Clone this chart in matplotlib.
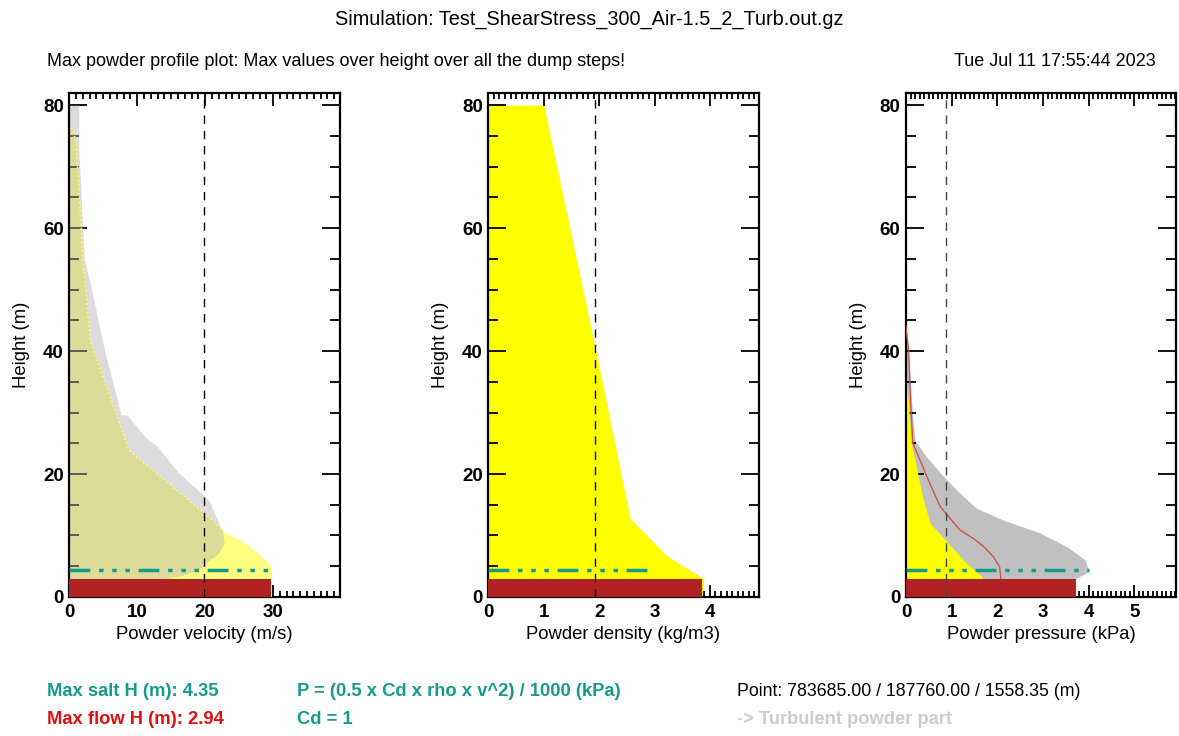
import numpy as np
import matplotlib
matplotlib.use("Agg")
import matplotlib.pyplot as plt
from matplotlib.ticker import MultipleLocator

plt.rcParams['font.family'] = ['Liberation Sans', 'DejaVu Sans']

# ---- data ----
salt_h = 4.35   # max saltation height (m)
flow_h = 2.94   # max flow height (m)

# velocity panel
vel_flow_h = [0, 2.94, 4.9, 5.8, 7.0, 8.7, 10.5, 12.2, 23.8, 41.6, 55.2, 73.8, 76.0, 76.5]
vel_flow_v = [29.7, 29.7, 29.6, 29.0, 27.8, 25.8, 22.8, 21.4, 8.8, 3.1, 2.0, 1.0, 0.5, 0.0]
vel_turb_h = [0, 2.94, 3.5, 4.3, 5.2, 6.0, 7.0, 8.7, 10.5, 12.2, 15.7, 17.4, 20.3, 24.4,
              26.2, 29.5, 29.7, 40.0, 49.4, 55.0, 72.7, 80.0]
vel_turb_v = [14.0, 14.0, 16.5, 18.8, 19.9, 20.6, 21.9, 22.8, 22.6, 21.9, 20.6, 18.9, 16.0, 13.0,
              11.0, 8.6, 7.6, 5.2, 3.4, 2.2, 1.4, 1.4]
vel_ref = 19.8
vel_bar = 29.7
vel_salt = 29.7

# density panel
dens_h = [0, 3.0, 6.7, 12.75, 40.0, 80.0]
dens_v = [3.88, 3.88, 3.22, 2.56, 1.94, 1.0]
dens_ref = 1.93
dens_bar = 3.86
dens_salt = 2.86

# pressure panel
pres_flow_h = [0, 3.3, 6.0, 9.3, 12.0, 15.8, 19.6, 25.0, 32.0, 36.0]
pres_flow_v = [1.75, 1.66, 1.26, 0.86, 0.53, 0.38, 0.27, 0.12, 0.05, 0.0]
pres_turb_h = [0, 2.8, 4.1, 6.0, 8.2, 10.4, 12.5, 14.4, 16.9, 19.6, 22.8, 25.5, 29.0, 35.0, 42.0]
pres_turb_v = [3.66, 3.66, 4.0, 3.93, 3.52, 2.94, 2.13, 1.55, 1.18, 0.82, 0.45, 0.2, 0.15, 0.1, 0.03]
pres_line_h = [2.94, 4.9, 6.6, 8.2, 9.5, 10.9, 13.1, 14.7, 19.0, 21.7, 25.0, 32.0, 40.0, 44.0]
pres_line_v = [2.08, 2.05, 1.91, 1.70, 1.48, 1.18, 0.93, 0.75, 0.49, 0.34, 0.15, 0.10, 0.06, 0.0]
pres_ref = 0.87
pres_bar = 3.73
pres_salt = 4.0

teal = '#169a8c'
darkred = '#b22222'

fig = plt.figure(figsize=(11.79, 7.36), dpi=100)

# axes positions (figure fractions)
lefts = [0.0588, 0.4142, 0.7684]
bottom, width, height = 0.1889, 0.2293, 0.685

ax1 = fig.add_axes([lefts[0], bottom, width, height])
ax2 = fig.add_axes([lefts[1], bottom, width, height])
ax3 = fig.add_axes([lefts[2], bottom, width, height])

salt_style = (0, (6, 2.5, 1.3, 2.5, 1.3, 2.5, 1.3, 2.5))

# velocity
ax1.fill_betweenx(vel_flow_h, 0, vel_flow_v, color='yellow', alpha=0.5, lw=0, zorder=1)
ax1.fill_betweenx(vel_turb_h, 0, vel_turb_v, color='#b2b2b8', alpha=0.45, lw=0, zorder=2)
ax1.plot(vel_flow_v, vel_flow_h, color='#ffff60', lw=1.2, ls=':', zorder=3)
ax1.barh(0, vel_bar, height=flow_h, align='edge', color=darkred, zorder=4)
ax1.axvline(vel_ref, color='black', lw=1, ls=(0, (6, 5)), zorder=5)
ax1.hlines(salt_h, 0, vel_salt, color=teal, lw=2.5, linestyles=[salt_style], zorder=6)
ax1.set_xlim(0, 39.8)
ax1.set_xticks([0, 10, 20, 30])
ax1.xaxis.set_minor_locator(MultipleLocator(1))
ax1.set_xlabel('Powder velocity (m/s)', fontsize=13.3)

# density
ax2.fill_betweenx(dens_h, 0, dens_v, color='yellow', lw=0, zorder=1)
ax2.barh(0, dens_bar, height=flow_h, align='edge', color=darkred, zorder=4)
ax2.axvline(dens_ref, color='black', lw=1, ls=(0, (6, 5)), zorder=5)
ax2.hlines(salt_h, 0, dens_salt, color=teal, lw=2.5, linestyles=[salt_style], zorder=6)
ax2.set_xlim(0, 4.88)
ax2.set_xticks([0, 1, 2, 3, 4])
ax2.xaxis.set_minor_locator(MultipleLocator(0.1))
ax2.set_xlabel('Powder density (kg/m3)', fontsize=13.3)

# pressure
ax3.fill_betweenx(pres_turb_h, 0, pres_turb_v, color='#c0c0c0', lw=0, zorder=1)
ax3.fill_betweenx(pres_flow_h, 0, pres_flow_v, color='yellow', lw=0, zorder=2)
ax3.plot(pres_line_v, pres_line_h, color='#cc5548', lw=1, zorder=3)
ax3.barh(0, pres_bar, height=flow_h, align='edge', color=darkred, zorder=4)
ax3.axvline(pres_ref, color='#444444', lw=1, ls=(0, (6, 5)), zorder=5)
ax3.hlines(salt_h, 0, pres_salt, color=teal, lw=2.5, linestyles=[salt_style], zorder=6)
ax3.set_xlim(0, 5.92)
ax3.set_xticks([0, 1, 2, 3, 4, 5])
ax3.xaxis.set_minor_locator(MultipleLocator(0.1))
ax3.set_xlabel('Powder pressure (kPa)', fontsize=13.3)

for ax in (ax1, ax2, ax3):
    ax.set_ylim(0, 82)
    ax.set_yticks([0, 20, 40, 60, 80])
    ax.yaxis.set_minor_locator(MultipleLocator(5))
    ax.set_ylabel('Height (m)', fontsize=13.3, labelpad=9)
    for s in ax.spines.values():
        s.set_linewidth(1.6)
    ax.tick_params(which='both', direction='in', top=True, right=True, width=1.3)
    ax.tick_params(axis='x', which='major', length=9, labelsize=13.5, pad=5)
    ax.tick_params(axis='x', which='minor', length=4.5)
    ax.tick_params(axis='y', which='major', length=13, labelsize=13.5, pad=4)
    ax.tick_params(axis='y', which='minor', length=7)
    for lab in ax.get_xticklabels() + ax.get_yticklabels():
        lab.set_fontweight('bold')

# header texts
fig.text(0.5, 0.973, 'Simulation: Test_ShearStress_300_Air-1.5_2_Turb.out.gz',
         ha='center', va='center', fontsize=14.3)
fig.text(0.04, 0.917, 'Max powder profile plot: Max values over height over all the dump steps!',
         ha='left', va='center', fontsize=13)
fig.text(0.98, 0.917, 'Tue Jul 11 17:55:44 2023', ha='right', va='center', fontsize=13)

# footer texts
fig.text(0.04, 0.06, 'Max salt H (m): 4.35', color=teal, fontweight='bold',
         ha='left', va='center', fontsize=13.2)
fig.text(0.04, 0.022, 'Max flow H (m): 2.94', color='#e01010', fontweight='bold',
         ha='left', va='center', fontsize=13.2)
fig.text(0.252, 0.06, 'P = (0.5 x Cd x rho x v^2) / 1000 (kPa)', color=teal, fontweight='bold',
         ha='left', va='center', fontsize=13.2)
fig.text(0.252, 0.022, 'Cd = 1', color=teal, fontweight='bold',
         ha='left', va='center', fontsize=13.2)
fig.text(0.625, 0.06, 'Point: 783685.00 / 187760.00 / 1558.35 (m)', color='black',
         ha='left', va='center', fontsize=12.8)
fig.text(0.625, 0.022, '-> Turbulent powder part', color='#cccccc', fontweight='bold',
         ha='left', va='center', fontsize=13.2)

fig.savefig('out.png', dpi=100)
